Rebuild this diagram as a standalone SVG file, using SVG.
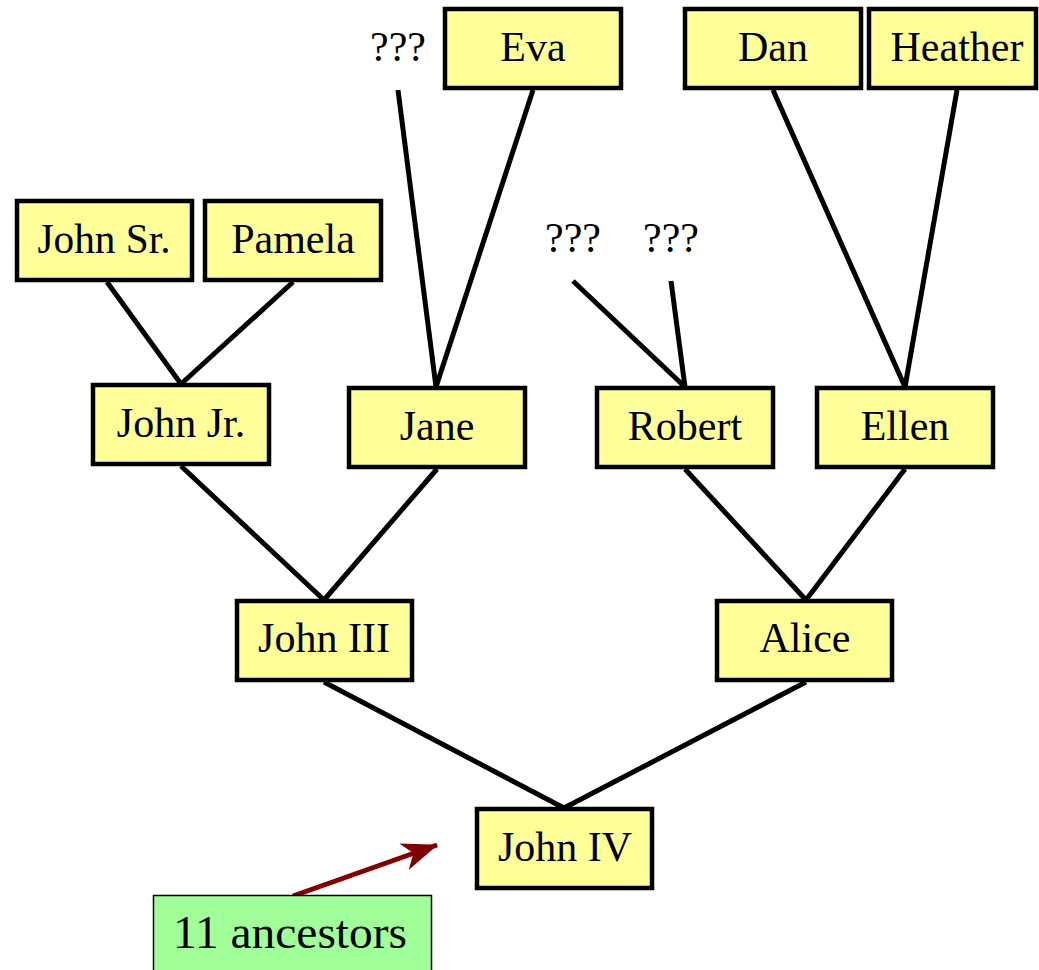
<svg xmlns="http://www.w3.org/2000/svg" width="1039" height="970" viewBox="0 0 1039 970">
<style>
.n rect{fill:#ffff99;stroke:#000;stroke-width:4.5}
text{font-family:"Liberation Serif","Times New Roman",serif;font-size:42px;fill:#000;text-anchor:middle}
.c line{stroke:#000;stroke-width:5;stroke-linecap:butt}
</style>
<defs>
<marker id="ah" viewBox="0 0 36 30" refX="35" refY="15" markerWidth="36" markerHeight="30" orient="auto" markerUnits="userSpaceOnUse">
<path d="M0,1 L36,15 L0,29 L10,15 Z" fill="#800000"/>
</marker>
</defs>
<rect width="1039" height="970" fill="#fff"/>
<g class="c" id="connectors">
<line x1="107" y1="282" x2="181" y2="384"/>
<line x1="293" y1="282" x2="181" y2="384"/>
<line x1="398" y1="90" x2="436" y2="387"/>
<line x1="533" y1="90" x2="436" y2="387"/>
<line x1="573" y1="281" x2="685" y2="387"/>
<line x1="671" y1="281" x2="685" y2="387"/>
<line x1="773" y1="90" x2="905" y2="387"/>
<line x1="957" y1="90" x2="905" y2="387"/>
<line x1="181" y1="466" x2="324" y2="600"/>
<line x1="437" y1="469" x2="324" y2="600"/>
<line x1="685" y1="469" x2="806" y2="600"/>
<line x1="905" y1="469" x2="806" y2="600"/>
<line x1="324" y1="682" x2="564" y2="808"/>
<line x1="806" y1="682" x2="564" y2="808"/>
<line x1="293" y1="896" x2="437" y2="845" style="stroke:#800000;stroke-width:5" marker-end="url(#ah)"/>
</g>
<text x="398" y="61">???</text>
<text x="573" y="252">???</text>
<text x="671" y="252">???</text>
<g class="n" id="eva"><rect x="445" y="9" width="176" height="79"/><text x="533" y="61">Eva</text></g>
<g class="n" id="dan"><rect x="685" y="9" width="176" height="79"/><text x="773" y="61">Dan</text></g>
<g class="n" id="heather"><rect x="869" y="9" width="167" height="79"/><text x="957" y="61">Heather</text></g>
<g class="n" id="johnsr"><rect x="17" y="201" width="175" height="79"/><text x="104" y="253" textLength="133" lengthAdjust="spacingAndGlyphs">John Sr.</text></g>
<g class="n" id="pamela"><rect x="205" y="201" width="176" height="79"/><text x="293" y="253">Pamela</text></g>
<g class="n" id="johnjr"><rect x="93" y="385" width="176" height="79"/><text x="181" y="437">John Jr.</text></g>
<g class="n" id="jane"><rect x="349" y="388" width="176" height="79"/><text x="437" y="440">Jane</text></g>
<g class="n" id="robert"><rect x="597" y="388" width="176" height="79"/><text x="685" y="440">Robert</text></g>
<g class="n" id="ellen"><rect x="817" y="388" width="176" height="79"/><text x="905" y="440">Ellen</text></g>
<g class="n" id="johniii"><rect x="237" y="601" width="175" height="79"/><text x="324" y="652">John III</text></g>
<g class="n" id="alice"><rect x="717" y="601" width="175" height="79"/><text x="805" y="652">Alice</text></g>
<g class="n" id="johniv"><rect x="477" y="809" width="175" height="79"/><text x="565" y="861">John IV</text></g>
<g id="note"><rect x="153.5" y="895.5" width="278" height="80" fill="#a0ff98" stroke="#000" stroke-width="1.5"/><text x="290" y="948" style="font-size:46px" textLength="234" lengthAdjust="spacingAndGlyphs">11 ancestors</text></g>
</svg>
